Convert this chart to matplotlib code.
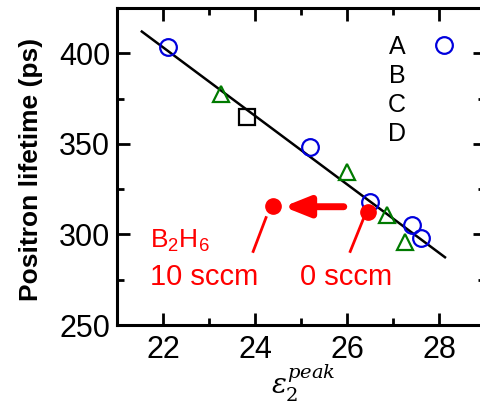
import matplotlib
matplotlib.use("Agg")
import matplotlib.pyplot as plt
from matplotlib.lines import Line2D
from matplotlib.ticker import MultipleLocator

plt.rcParams['font.family'] = ['Liberation Sans', 'DejaVu Sans']
plt.rcParams['mathtext.fontset'] = 'dejavuserif'

# Data
circ_x = [22.1, 25.2, 26.5, 27.41, 27.6]
circ_y = [403.5, 348.0, 318.0, 305.0, 298.0]
tri_x = [23.26, 26.0, 26.87, 27.26]
tri_y = [377.5, 334.5, 311.0, 296.0]
sq_x = [23.83]
sq_y = [364.8]
fit_x = [21.54, 28.13]
fit_y = [412.0, 287.4]
red_x = [24.39, 26.46]
red_y = [315.5, 312.6]
legend_labels = ['A', 'B', 'C', 'D']

fig = plt.figure(figsize=(4.8, 4.08), dpi=100)
ax = fig.add_axes([117/480, 83/408, 368/480, 317/408])

ax.plot(fit_x, fit_y, color='black', lw=1.8, zorder=2)
ax.plot(circ_x, circ_y, 'o', ms=12, mfc='none', mec='#0000dd', mew=1.6, zorder=3)
ax.plot(tri_x, tri_y, '^', ms=12, mfc='none', mec='#007a00', mew=1.6, zorder=3)
ax.plot(sq_x, sq_y, 's', ms=11, mfc='none', mec='black', mew=1.6, zorder=3)
ax.plot(red_x, red_y, 'o', ms=11, color='#ff0000', zorder=4)

# arrow
ax.annotate('', xy=(24.62, 315.3), xytext=(25.93, 315.3),
            arrowprops=dict(arrowstyle='-|>,head_length=0.75,head_width=0.3',
                            mutation_scale=20, color='#ff0000', lw=5,
                            shrinkA=0, shrinkB=0))
# leader lines
ax.plot([24.24, 23.96], [309.3, 290.6], color='#ff0000', lw=2)
ax.plot([26.35, 26.07], [308.2, 290.6], color='#ff0000', lw=2)

ax.text(21.72, 296.5, r'B$_\mathregular{2}$H$_\mathregular{6}$', color='#ff0000', fontsize=19,
        ha='left', va='center')
ax.text(21.72, 276.5, '10 sccm', color='#ff0000', fontsize=21, ha='left', va='center')
ax.text(24.98, 276.5, '0 sccm', color='#ff0000', fontsize=21, ha='left', va='center')

ax.set_xlim(21, 29)
ax.set_ylim(250, 425)
ax.xaxis.set_major_locator(MultipleLocator(2))
ax.xaxis.set_minor_locator(MultipleLocator(1))
ax.yaxis.set_major_locator(MultipleLocator(50))
ax.yaxis.set_minor_locator(MultipleLocator(25))
ax.tick_params(which='both', direction='in', top=True, right=True, width=2, labelsize=22, color='black')
ax.tick_params(which='major', length=9)
ax.tick_params(which='minor', length=5)
ax.tick_params(axis='x', pad=7)
ax.tick_params(axis='y', pad=5)
for s in ax.spines.values():
    s.set_linewidth(2.2)

ax.set_ylabel('Positron lifetime (ps)', fontsize=19, fontweight='bold')
ax.yaxis.set_label_coords((43-117)/368, 0.492)
ax.set_xlabel(r'$\varepsilon_2^{peak}$', fontsize=20)
ax.xaxis.set_label_coords((303-117)/368, -0.12)

handles = [Line2D([], [], marker='o', ls='none', ms=12, mfc='none', mec='#0000dd', mew=1.6)]
handles += [Line2D([], [], marker='None', ls='none') for _ in range(3)]
ax.legend(handles, legend_labels, loc='upper left', bbox_to_anchor=((388-117)/368, 0.915),
          frameon=False, markerfirst=False, fontsize=18, handlelength=1.6, handletextpad=0.72,
          labelspacing=0.2, borderpad=0, borderaxespad=0)

fig.savefig('out.png', dpi=100)
